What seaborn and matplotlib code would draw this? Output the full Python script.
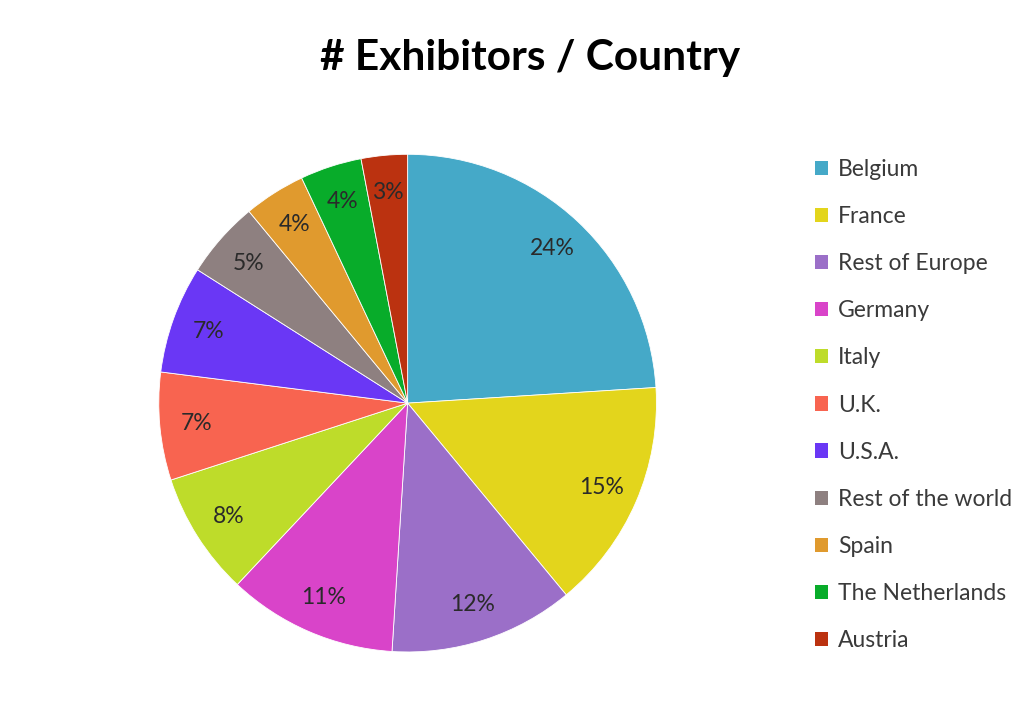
import matplotlib
matplotlib.use("Agg")
import matplotlib.pyplot as plt
import matplotlib.patches as mpatches
import seaborn as sns

countries = ["Belgium", "France", "Rest of Europe", "Germany", "Italy", "U.K.",
             "U.S.A.", "Rest of the world", "Spain", "The Netherlands", "Austria"]
shares = [24, 15, 12, 11, 8, 7, 7, 5, 4, 4, 3]
colors = ["#45A9C8", "#E3D51C", "#9B6FC8", "#D944C9", "#BEDC2A", "#F86450",
          "#6A37F5", "#8E8080", "#E09A2E", "#08AC2A", "#BB3210"]
title = "# Exhibitors / Country"

sns.set_theme(style="white")
plt.rcParams["font.family"] = ["Lato", "DejaVu Sans"]

fig = plt.figure(figsize=(10.3, 7.13), dpi=100)
ax = fig.add_axes([0.154, 0.0856, 0.4835, 0.698])
palette = sns.color_palette(colors)
wedges, texts, autotexts = ax.pie(
    shares, colors=palette, startangle=90, counterclock=False,
    autopct=lambda p: f"{p:.0f}%", pctdistance=0.85,
    wedgeprops=dict(linewidth=0.6, edgecolor="white"),
    textprops=dict(fontsize=16.5, color="#2a2a2a"))
ax.set_xlim(-1, 1)
ax.set_ylim(-1, 1)
ax.set_aspect("equal")
ax.axis("off")

fig.text(0.515, 0.918, title, ha="center", va="center", fontsize=30.5,
         fontweight="bold", color="black")

handles = [mpatches.Patch(facecolor=c, edgecolor="none") for c in palette]
fig.legend(handles, countries, loc="upper left", bbox_to_anchor=(0.771, 0.806),
           frameon=False, fontsize=16.5, labelspacing=1.14, handlelength=0.58,
           handleheight=0.58, handletextpad=0.45, labelcolor="#3a3a3a")

fig.savefig("out.png", dpi=100, facecolor="white")
